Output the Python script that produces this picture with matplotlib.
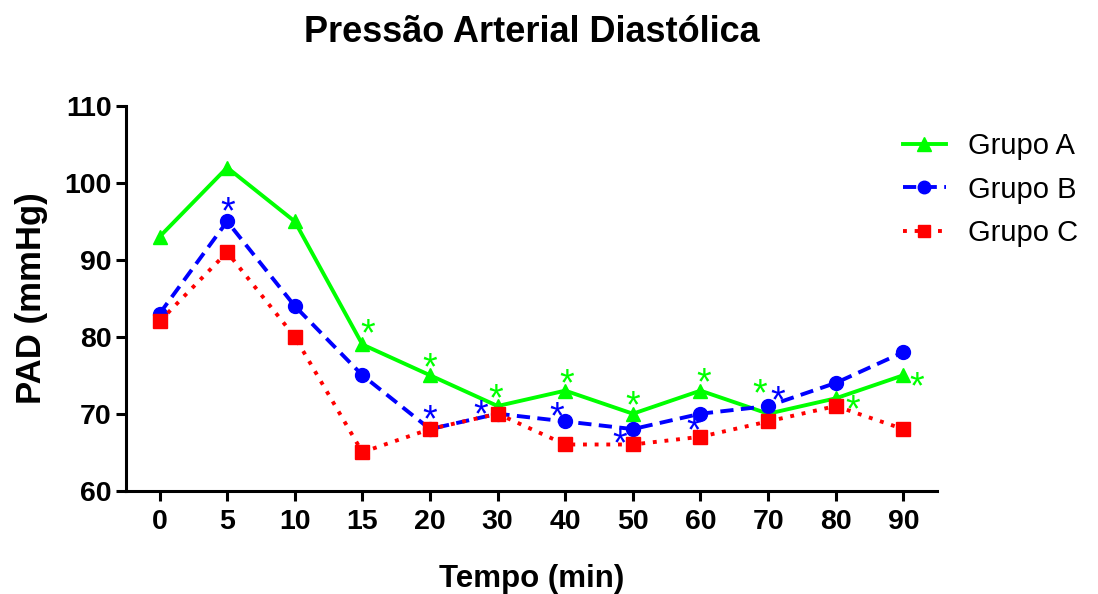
import matplotlib
matplotlib.use("Agg")
import matplotlib.pyplot as plt

plt.rcParams['font.family'] = ['Liberation Sans', 'DejaVu Sans']

tempo = ['0', '5', '10', '15', '20', '30', '40', '50', '60', '70', '80', '90']
grupo_a = [93, 102, 95, 79, 75, 71, 73, 70, 73, 70, 72, 75]
grupo_b = [83, 95, 84, 75, 68, 70, 69, 68, 70, 71, 74, 78]
grupo_c = [82, 91, 80, 65, 68, 70, 66, 66, 67, 69, 71, 68]

# indices of points marked with significance asterisks
sig_a = [3, 4, 5, 6, 7, 8, 9, 10, 11]
sig_b = [1, 4, 5, 6, 7, 8, 9]

# asterisk offsets in pixels (dx, dy), positive dy = up
off_a = {3: (5, 17), 4: (0, 14), 5: (-2, 14), 6: (1, 13), 7: (0, 14), 8: (3, 14),
         9: (-8, 26), 10: (17, -5), 11: (13, -5)}
off_b = {1: (1, 16), 4: (0, 16), 5: (-17, 5), 6: (-9, 11), 7: (-13, -8),
         8: (-7, -11), 9: (10, 12)}

x = list(range(len(tempo)))

fig = plt.figure(figsize=(10.98, 5.94), dpi=100)
ax = fig.add_axes([0.1145, 0.174, 0.739, 0.6475])

ax.plot(x, grupo_a, color='#00FF00', lw=2.8, marker='^', ms=10.5, label='Grupo A', zorder=3)
ax.plot(x, grupo_b, color='#0000FF', lw=2.8, ls=(0, (3.4, 1.9)), marker='o', ms=10,
        label='Grupo B', zorder=4)
ax.plot(x, grupo_c, color='#FF0000', lw=2.8, ls=(0, (1, 2.0)), marker='s', ms=10,
        label='Grupo C', zorder=5)

ast_dy = -8
for i in sig_a:
    dx, dy = off_a[i]
    ax.annotate('*', xy=(x[i], grupo_a[i]), xytext=(dx, dy + ast_dy), textcoords='offset pixels',
                ha='center', va='center', fontsize=27, color='#00FF00', zorder=6)
for i in sig_b:
    dx, dy = off_b[i]
    ax.annotate('*', xy=(x[i], grupo_b[i]), xytext=(dx, dy + ast_dy), textcoords='offset pixels',
                ha='center', va='center', fontsize=27, color='#0000FF', zorder=6)

ax.set_xlim(-0.5, 11.5)
ax.set_ylim(60, 110)
ax.set_xticks(x)
ax.set_xticklabels(tempo)
ax.set_yticks([60, 70, 80, 90, 100, 110])
for s in ['top', 'right']:
    ax.spines[s].set_visible(False)
for s in ['left', 'bottom']:
    ax.spines[s].set_linewidth(2.2)
ax.tick_params(width=2.2, length=7, labelsize=20.5)
ax.tick_params(axis='x', pad=6)
ax.tick_params(axis='y', pad=3)
for lab in ax.get_xticklabels() + ax.get_yticklabels():
    lab.set_fontweight('bold')

ax.set_xlabel('Tempo (min)', fontsize=22.5, fontweight='bold', labelpad=21)
ax.set_ylabel('PAD (mmHg)', fontsize=25, fontweight='bold', labelpad=12)
ax.set_title('Pressão Arterial Diastólica', fontsize=26, fontweight='bold', pad=46)

leg = fig.legend(loc='upper left', bbox_to_anchor=(0.822, 0.777), frameon=False, fontsize=21,
                 handlelength=1.5, handletextpad=0.75, markerscale=0.9, labelspacing=0.52,
                 borderpad=0, borderaxespad=0)

fig.savefig('out.png', dpi=100)
